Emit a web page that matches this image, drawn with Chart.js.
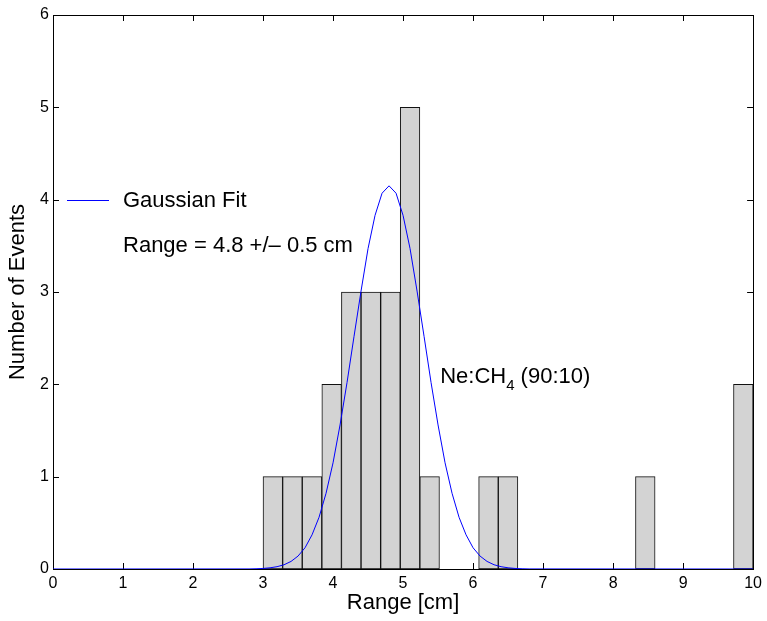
<!DOCTYPE html>
<html>
<head>
<meta charset="utf-8">
<title>Range distribution</title>
<script src="https://cdn.jsdelivr.net/npm/chart.js@4.4.0/dist/chart.umd.min.js"></script>
<style>
  html, body { margin: 0; padding: 0; background: #fff; }
  #wrap { width: 767px; height: 621px; }
</style>
</head>
<body>
<div id="wrap"><canvas id="rangeChart" width="767" height="621"></canvas></div>
<script>
// histogram: bin centres (cm), 0.28 cm wide, and events per bin
const binCenters = [3.14, 3.42, 3.70, 3.98, 4.26, 4.54, 4.82, 5.10, 5.38, 5.66,
                    5.94, 6.22, 6.50, 6.78, 7.06, 7.34, 7.62, 7.90, 8.18, 8.46,
                    8.74, 9.02, 9.30, 9.58, 9.86];
const binCounts = [1, 1, 1, 2, 3, 3, 3, 5, 1, 0,
                   0, 1, 1, 0, 0, 0, 0, 0, 0, 1,
                   0, 0, 0, 0, 2];

// gaussian fit, sampled every 0.1 cm around the peak
const fitX = [0, 2.8, 2.9, 3.0, 3.1, 3.2, 3.3, 3.4, 3.5, 3.6, 3.7, 3.8, 3.9, 4.0,
              4.1, 4.2, 4.3, 4.4, 4.5, 4.6, 4.7, 4.8, 4.9, 5.0, 5.1, 5.2, 5.3,
              5.4, 5.5, 5.6, 5.7, 5.8, 5.9, 6.0, 6.1, 6.2, 6.3, 6.4, 6.5, 6.6,
              6.7, 6.8, 10];
const fitY = [0, 0.001, 0.003, 0.006, 0.013, 0.025, 0.046, 0.082, 0.14, 0.23, 0.37,
              0.56, 0.82, 1.15, 1.56, 2.02, 2.52, 3.01, 3.47, 3.83, 4.07, 4.15,
              4.07, 3.83, 3.47, 3.01, 2.52, 2.02, 1.56, 1.15, 0.82, 0.56, 0.37,
              0.23, 0.14, 0.082, 0.046, 0.025, 0.013, 0.006, 0.003, 0.001, 0];

const fontFamily = "'Liberation Sans', Arial, Helvetica, sans-serif";

// box around the plot with inward tick marks on all four sides
const frameTicks = {
  id: 'frameTicks',
  beforeDatasetsDraw(chart) {
    const { ctx, chartArea: a, scales: { x, y } } = chart;
    const len = 6;
    ctx.save();
    ctx.strokeStyle = '#000';
    ctx.lineWidth = 1;
    ctx.beginPath();
    x.ticks.forEach(t => {
      const px = Math.round(x.getPixelForValue(t.value)) + 0.5;
      ctx.moveTo(px, a.bottom); ctx.lineTo(px, a.bottom - len);
      ctx.moveTo(px, a.top); ctx.lineTo(px, a.top + len);
    });
    y.ticks.forEach(t => {
      const py = Math.round(y.getPixelForValue(t.value)) + 0.5;
      ctx.moveTo(a.left, py); ctx.lineTo(a.left + len, py);
      ctx.moveTo(a.right, py); ctx.lineTo(a.right - len, py);
    });
    ctx.stroke();
    ctx.strokeRect(Math.round(a.left) + 0.5, Math.round(a.top) + 0.5,
                   Math.round(a.right - a.left), Math.round(a.bottom - a.top));
    ctx.restore();
  }
};

// fit legend and annotations
const notes = {
  id: 'notes',
  afterDatasetsDraw(chart) {
    const { ctx, scales: { x, y } } = chart;
    ctx.save();
    ctx.font = '22px ' + fontFamily;
    ctx.fillStyle = '#000';
    ctx.textBaseline = 'middle';
    ctx.textAlign = 'left';

    const ly = Math.round(y.getPixelForValue(4)) + 0.5;
    ctx.strokeStyle = '#0000ff';
    ctx.lineWidth = 1;
    ctx.beginPath();
    ctx.moveTo(x.getPixelForValue(0.2), ly);
    ctx.lineTo(x.getPixelForValue(0.8), ly);
    ctx.stroke();

    ctx.fillText('Gaussian Fit', x.getPixelForValue(1.0), ly);
    ctx.fillText('Range = 4.8 +/\u2013 0.5 cm', x.getPixelForValue(1.0), y.getPixelForValue(3.5));

    // Ne:CH4 with subscript
    let tx = x.getPixelForValue(5.53);
    const ty = y.getPixelForValue(2.08);
    ctx.fillText('Ne:CH', tx, ty);
    tx += ctx.measureText('Ne:CH').width;
    ctx.font = '15px ' + fontFamily;
    ctx.fillText('4', tx, ty + 9);
    tx += ctx.measureText('4').width;
    ctx.font = '22px ' + fontFamily;
    ctx.fillText(' (90:10)', tx, ty);
    ctx.restore();
  }
};

new Chart(document.getElementById('rangeChart'), {
  type: 'bar',
  data: {
    datasets: [
      {
        type: 'line',
        label: 'Gaussian Fit',
        data: fitX.map((v, i) => ({ x: v, y: fitY[i] })),
        borderColor: '#0000ff',
        borderWidth: 1,
        pointRadius: 0,
        tension: 0,
        fill: false,
        order: 0
      },
      {
        type: 'bar',
        label: 'Events',
        data: binCenters.map((v, i) => ({ x: v, y: binCounts[i] || null })),
        backgroundColor: '#d3d3d3',
        borderColor: '#111',
        borderWidth: 1,
        borderSkipped: false,
        barPercentage: 1,
        categoryPercentage: 1,
        order: 1
      }
    ]
  },
  options: {
    responsive: false,
    animation: false,
    layout: { padding: { top: 15, right: 12, bottom: 1, left: 0 } },
    plugins: { legend: { display: false }, tooltip: { enabled: false } },
    scales: {
      x: {
        type: 'linear',
        min: 0,
        max: 10,
        offset: false,
        grid: { display: false, drawTicks: false, offset: false },
        border: { display: false },
        ticks: { stepSize: 1, padding: 5, color: '#000', font: { family: fontFamily, size: 16 } },
        title: { display: true, text: 'Range [cm]', color: '#000',
                 font: { family: fontFamily, size: 22 }, padding: { top: 0, bottom: 4 } },
        afterFit(scale) { scale.height = 51; }
      },
      y: {
        min: 0,
        max: 6,
        grid: { display: false, drawTicks: false },
        border: { display: false },
        ticks: { stepSize: 1, padding: 4, color: '#000', font: { family: fontFamily, size: 16 } },
        title: { display: true, text: 'Number of Events', color: '#000',
                 font: { family: fontFamily, size: 22 }, padding: { top: 5, bottom: 0 } },
        afterFit(scale) { scale.width = 53; }
      }
    }
  },
  plugins: [frameTicks, notes]
});
</script>
</body>
</html>
